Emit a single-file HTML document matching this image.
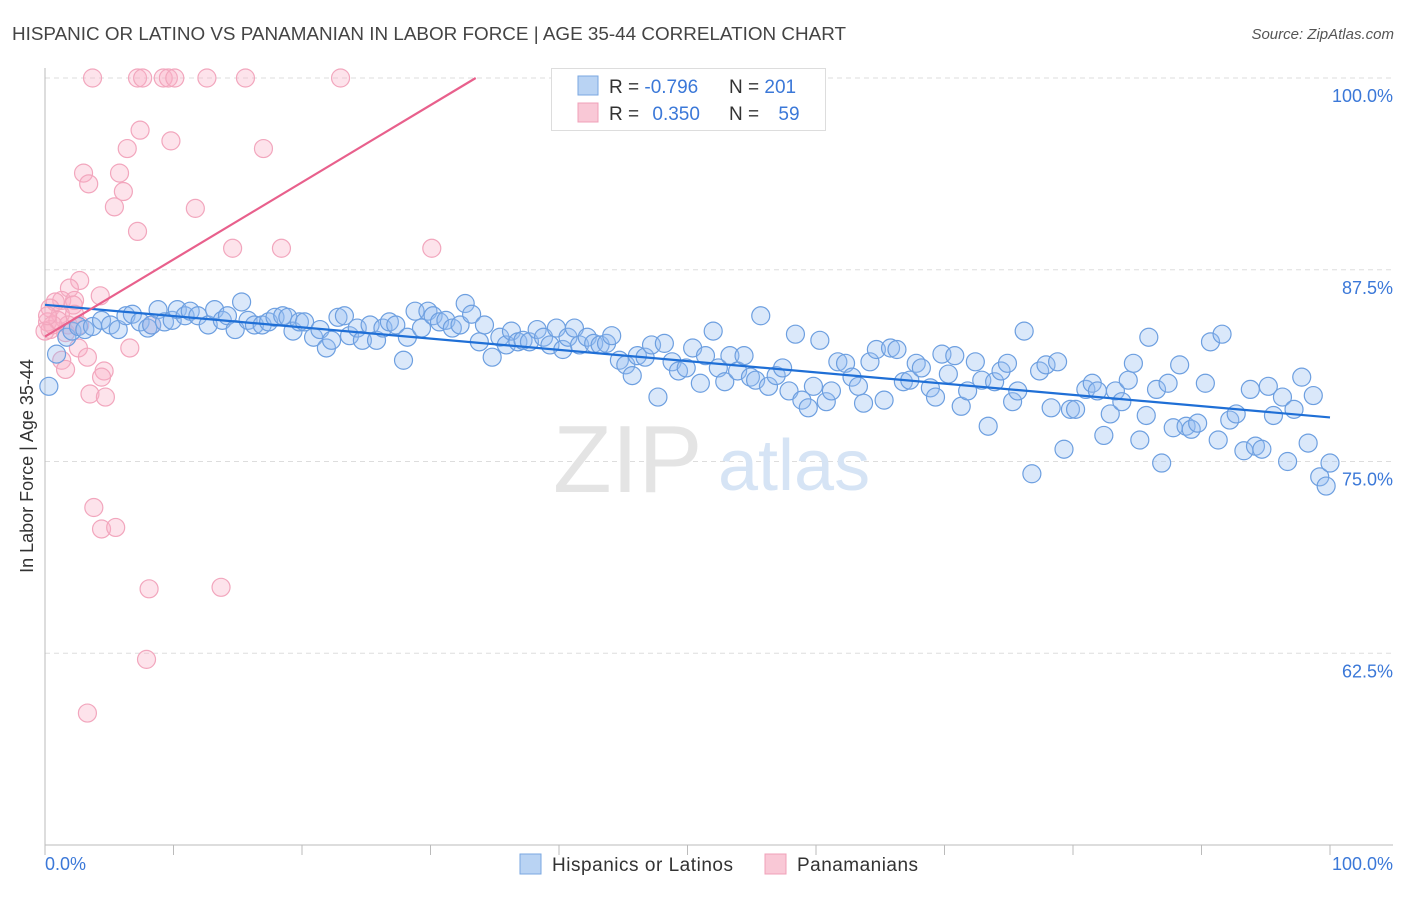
<!DOCTYPE html>
<html><head><meta charset="utf-8"><style>
body{margin:0;background:#fff;font-family:"Liberation Sans",sans-serif;}
svg text{font-family:"Liberation Sans",sans-serif;}
</style></head><body>
<svg id="chart" width="1406" height="892" viewBox="0 0 1406 892" xmlns="http://www.w3.org/2000/svg">
<text x="12" y="40" font-size="18" fill="#444" textLength="834" lengthAdjust="spacingAndGlyphs">HISPANIC OR LATINO VS PANAMANIAN IN LABOR FORCE | AGE 35-44 CORRELATION CHART</text>
<text x="1394" y="39" font-size="15" fill="#555" font-style="italic" text-anchor="end">Source: ZipAtlas.com</text>
<g id="grid"></g>
<g>
<text x="553" y="492" font-size="96" fill="#e4e4e4" font-family="Liberation Serif, serif">ZIP</text>
<text x="718" y="490" font-size="72" fill="#d6e4f5">atlas</text>
</g>
<g id="axes"></g>
<g id="pinkpts"></g>
<g id="bluepts"></g>
<g id="lines"></g>
<text x="25" y="458" font-size="18" fill="#333" text-anchor="middle" transform="rotate(-90 33 458)">In Labor Force | Age 35-44</text>
<text x="45" y="870" font-size="18" fill="#3b78d8">0.0%</text>
<text x="1393" y="870" font-size="18" fill="#3b78d8" text-anchor="end">100.0%</text>
<g>
<rect x="551.5" y="68.5" width="274" height="62" fill="#fff" stroke="#ddd"/>
<rect x="578" y="76" width="20" height="19" fill="#b9d3f3" stroke="#7aa7e0"/>
<rect x="578" y="103" width="20" height="19" fill="#f9c8d6" stroke="#f0a0b8"/>
<text x="609" y="93" font-size="19" fill="#333">R = <tspan fill="#3b78d8">-0.796</tspan></text>
<text x="729" y="93" font-size="19" fill="#333">N = <tspan fill="#3b78d8">201</tspan></text>
<text x="609" y="120" font-size="19" fill="#333">R = <tspan fill="#3b78d8" dx="8">0.350</tspan></text>
<text x="729" y="120" font-size="19" fill="#333">N = <tspan fill="#3b78d8" dx="14">59</tspan></text>
</g>
<g>
<rect x="520" y="854" width="21" height="20" fill="#b9d3f3" stroke="#7aa7e0"/>
<text x="552" y="871" font-size="19" fill="#333" textLength="181">Hispanics or Latinos</text>
<rect x="765" y="854" width="21" height="20" fill="#f9c8d6" stroke="#f0a0b8"/>
<text x="797" y="871" font-size="19" fill="#333" textLength="121">Panamanians</text>
</g>
</svg>
<script>
const yTicks=[100,87.5,75,62.5];
const yTickLabels=["100.0%","87.5%","75.0%","62.5%"];
const xTicks=[0,10,20,30,40,50,60,70,80,90,100];
const blueX=[0.3,0.9,1.7,2.1,2.6,3.1,3.7,4.4,5.1,5.7,6.3,6.8,7.4,8.0,8.3,8.8,9.3,9.9,10.3,10.9,11.3,11.9,12.7,13.2,13.8,14.2,14.8,15.3,15.8,16.3,16.9,17.4,17.9,18.5,18.9,19.3,19.8,20.2,20.9,21.4,21.9,22.3,22.8,23.3,23.7,24.3,24.7,25.3,25.8,26.3,26.8,27.3,27.9,28.2,28.8,29.3,29.8,30.2,30.7,31.2,31.7,32.3,32.7,33.2,33.8,34.2,34.8,35.4,35.9,36.3,36.8,37.2,37.7,38.3,38.8,39.3,39.8,40.3,40.7,41.2,41.6,42.2,42.7,43.2,43.7,44.1,44.7,45.2,45.7,46.1,46.7,47.2,47.7,48.2,48.8,49.3,49.9,50.4,51.0,51.4,52.0,52.4,52.9,53.3,53.9,54.4,54.9,55.3,55.7,56.3,56.9,57.4,57.9,58.4,58.9,59.4,59.8,60.3,60.8,61.2,61.7,62.3,62.8,63.3,63.7,64.2,64.7,65.3,65.8,66.3,66.8,67.3,67.8,68.2,68.9,69.3,69.8,70.3,70.8,71.3,71.8,72.4,72.9,73.4,73.9,74.4,74.9,75.3,75.7,76.2,76.8,77.4,77.9,78.3,78.8,79.3,79.8,80.2,81.0,81.5,81.9,82.4,82.9,83.3,83.8,84.3,84.7,85.2,85.7,85.9,86.5,86.9,87.4,87.8,88.3,88.8,89.2,89.7,90.3,90.7,91.3,91.6,92.2,92.7,93.3,93.8,94.2,94.7,95.2,95.6,96.3,96.7,97.2,97.8,98.3,98.7,99.2,99.7,100.0];
const blueY=[79.9,82.0,83.1,83.5,83.8,83.6,83.8,84.2,83.9,83.6,84.5,84.6,84.1,83.7,83.9,84.9,84.1,84.2,84.9,84.5,84.8,84.5,83.9,84.9,84.2,84.5,83.6,85.4,84.2,83.9,83.9,84.1,84.4,84.5,84.4,83.5,84.1,84.1,83.1,83.6,82.4,82.9,84.4,84.5,83.2,83.7,82.9,83.9,82.9,83.7,84.1,83.9,81.6,83.1,84.8,83.7,84.8,84.5,84.1,84.2,83.7,83.9,85.3,84.6,82.8,83.9,81.8,83.1,82.6,83.5,82.8,82.9,82.8,83.6,83.1,82.6,83.7,82.3,83.1,83.7,82.6,83.1,82.7,82.6,82.7,83.2,81.6,81.3,80.6,81.9,81.8,82.6,79.2,82.7,81.5,80.9,81.1,82.4,80.1,81.9,83.5,81.1,80.2,81.9,80.9,81.9,80.5,80.3,84.5,79.9,80.6,81.1,79.6,83.3,79.0,78.5,79.9,82.9,78.9,79.6,81.5,81.4,80.5,79.9,78.8,81.5,82.3,79.0,82.4,82.3,80.2,80.3,81.4,81.1,79.8,79.2,82.0,80.7,81.9,78.6,79.6,81.5,80.3,77.3,80.2,80.9,81.4,78.9,79.6,83.5,74.2,80.9,81.3,78.5,81.5,75.8,78.4,78.4,79.7,80.1,79.6,76.7,78.1,79.6,78.9,80.3,81.4,76.4,78.0,83.1,79.7,74.9,80.1,77.2,81.3,77.3,77.1,77.5,80.1,82.8,76.4,83.3,77.7,78.1,75.7,79.7,76.0,75.8,79.9,78.0,79.2,75.0,78.4,80.5,76.2,79.3,74.0,73.4,74.9];
const pinkX=[3.7,7.2,7.6,9.2,9.6,10.1,12.6,15.6,23.0,7.4,9.8,6.4,17.0,3.0,5.8,3.4,6.1,5.4,11.7,7.2,14.6,18.4,30.1,2.7,1.9,4.3,1.3,2.3,0.8,2.2,0.4,1.2,2.3,0.2,1.8,2.7,0.4,1.6,6.6,2.6,3.3,1.3,1.6,4.6,4.4,3.5,4.7,3.8,4.4,5.5,8.1,13.7,7.9,3.3,0.6,1.0,8.3,0.0,0.2];
const pinkY=[100,100,100,100,100,100,100,100,100,96.6,95.9,95.4,95.4,93.8,93.8,93.1,92.6,91.6,91.5,90.0,88.9,88.9,88.9,86.8,86.3,85.8,85.5,85.5,85.4,85.2,85.0,84.6,84.6,84.1,83.9,83.9,83.6,83.4,82.4,82.4,81.8,81.6,81.0,80.9,80.5,79.4,79.2,72.0,70.6,70.7,66.7,66.8,62.1,58.6,83.9,84.2,83.9,83.5,84.5];

const NS="http://www.w3.org/2000/svg";
const X0=45,X1=1330,YT=78,YB=845,VMIN=50,VMAX=100;
const sx=v=>X0+(v/100)*(X1-X0);
const sy=v=>YT+(VMAX-v)/(VMAX-VMIN)*(YB-YT);
function mk(tag,attrs,parent){const e=document.createElementNS(NS,tag);for(const k in attrs)e.setAttribute(k,attrs[k]);parent.appendChild(e);return e;}
const grid=document.getElementById('grid');
yTicks.forEach((t,i)=>{
  const l=mk('line',{x1:X0,x2:1393,y1:sy(t),y2:sy(t),stroke:'#ddd','stroke-dasharray':'5,4'},grid);
  
  
  const tx=mk('text',{x:1393,y:sy(t)+24,'font-size':18,fill:'#3b78d8','text-anchor':'end'},grid);
  tx.textContent=yTickLabels[i];
  
  
});
const axes=document.getElementById('axes');
const ya=mk('line',{x1:X0,x2:X0,y1:68,y2:YB,stroke:'#bbb'},axes);


const xa=mk('line',{x1:X0,x2:1393,y1:YB,y2:YB,stroke:'#bbb'},axes);


xTicks.forEach(t=>{
  const l=mk('line',{x1:sx(t),x2:sx(t),y1:YB,y2:YB+10,stroke:'#bbb'},axes);
  
  
});
function pts(xs,ys,g,fill,stroke,name){
  xs.forEach((x,i)=>{
    const c=mk('circle',{cx:sx(x),cy:sy(ys[i]),r:9,fill:fill,stroke:stroke,'stroke-width':1.2},g);
    
    
  });
}
pts(pinkX,pinkY,document.getElementById('pinkpts'),'rgba(248,175,198,0.35)','#f2a6bd','panamanian-point');
pts(blueX,blueY,document.getElementById('bluepts'),'rgba(150,190,240,0.35)','#6d9fe0','hispanic-point');
function reg(xs,ys){const n=xs.length;let mx=0,my=0;xs.forEach((x,i)=>{mx+=x;my+=ys[i];});mx/=n;my/=n;let a=0,b=0;xs.forEach((x,i)=>{a+=(x-mx)*(ys[i]-my);b+=(x-mx)*(x-mx);});const s=a/b;return [s,my-s*mx];}
const lines=document.getElementById('lines');
const [bs,bi]=reg(blueX,blueY);
const bl=mk('line',{x1:sx(0),y1:sy(bi),x2:sx(100),y2:sy(bi+bs*100),stroke:'#1f6fd6','stroke-width':2.2},lines);


const [ps,pi]=reg(pinkX,pinkY);
let xe=100; if(pi+ps*100>VMAX) xe=(VMAX-pi)/ps;
const pl=mk('line',{x1:sx(0),y1:sy(pi),x2:sx(xe),y2:sy(pi+ps*xe),stroke:'#e8608c','stroke-width':2.2},lines);


</script>
</body></html>
